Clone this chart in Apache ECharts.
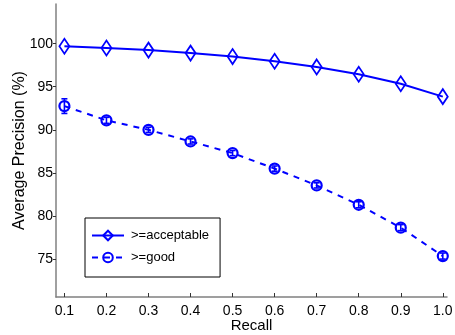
<!DOCTYPE html>
<html>
<head>
<meta charset="utf-8">
<script src="https://cdn.jsdelivr.net/npm/echarts@6/dist/echarts.min.js"></script>
<style>
  html, body { margin: 0; padding: 0; background: #fff; }
  #chart { width: 455px; height: 335px; }
</style>
</head>
<body>
<div id="chart"></div>
<script>
const recall = [0.1, 0.2, 0.3, 0.4, 0.5, 0.6, 0.7, 0.8, 0.9, 1.0]
const acceptable = [99.7, 99.5, 99.25, 98.9, 98.5, 97.95, 97.3, 96.45, 95.35, 93.85]
const good = [92.75, 91.1, 90.0, 88.65, 87.3, 85.5, 83.55, 81.3, 78.65, 75.35]
const goodErr = [0.85, 0.35, 0.3, 0.3, 0.3, 0.3, 0.3, 0.35, 0.35, 0.35]
const yTicks = [75, 80, 85, 90, 95, 100]

const blue = '#0000ff'
const font = 'Liberation Sans, Arial, Helvetica, sans-serif'

const chart = echarts.init(document.getElementById('chart'))

const errData = recall.map((x, i) => [x, good[i] - goodErr[i], good[i] + goodErr[i]])

chart.setOption({
  animation: false,
  textStyle: { fontFamily: font },
  grid: { left: 56, right: 8, top: 4, bottom: 38, outerBoundsMode: 'none', containLabel: false },
  xAxis: {
    type: 'value',
    min: 0.08,
    max: 1.01,
    name: 'Recall',
    nameLocation: 'middle',
    nameGap: 21,
    nameMoveOverlap: false,
    nameTextStyle: { fontSize: 15, color: '#000', fontFamily: font },
    axisLine: { lineStyle: { color: '#808080', width: 1.5 } },
    axisTick: { inside: true, length: 4, customValues: recall, lineStyle: { color: '#333' } },
    axisLabel: {
      customValues: recall,
      formatter: v => v.toFixed(1),
      fontSize: 14,
      color: '#000',
      margin: 7
    },
    splitLine: { show: false }
  },
  yAxis: {
    type: 'value',
    min: 70.6,
    max: 104.6,
    name: 'Average Precision (%)',
    nameLocation: 'middle',
    nameGap: 28,
    nameMoveOverlap: false,
    nameTextStyle: { fontSize: 16, color: '#000', fontFamily: font },
    axisLine: { show: true, lineStyle: { color: '#808080', width: 1.5 } },
    axisTick: { show: true, length: 3, customValues: yTicks, lineStyle: { color: '#333' } },
    axisLabel: { customValues: yTicks, fontSize: 14, color: '#000', margin: 3 },
    splitLine: { show: false }
  },
  legend: {
    left: 85,
    top: 218,
    orient: 'vertical',
    backgroundColor: '#fff',
    borderColor: '#000',
    borderWidth: 1,
    borderRadius: 0,
    padding: [11, 11, 13, 6],
    itemGap: 9,
    itemWidth: 32,
    itemHeight: 12,
    textStyle: { fontSize: 13, color: '#000', fontFamily: font, padding: [0, 0, 0, 2] },
    data: ['>=acceptable', '>=good']
  },
  series: [
    {
      name: '>=acceptable',
      type: 'line',
      data: recall.map((x, i) => [x, acceptable[i]]),
      symbol: 'diamond',
      symbolSize: [10, 15],
      lineStyle: { color: blue, width: 2 },
      itemStyle: { color: 'rgba(0,0,0,0)', borderColor: blue, borderWidth: 1.8 },
      emphasis: { disabled: true },
      z: 3
    },
    {
      name: '>=good',
      type: 'line',
      data: recall.map((x, i) => [x, good[i]]),
      symbol: 'circle',
      symbolSize: 10,
      lineStyle: { color: blue, width: 2, type: [6, 6] },
      itemStyle: { color: 'rgba(0,0,0,0)', borderColor: blue, borderWidth: 2.2 },
      emphasis: { disabled: true },
      z: 3
    },
    {
      name: 'err',
      type: 'custom',
      data: errData,
      silent: true,
      z: 4,
      renderItem: (params, api) => {
        const x = api.value(0)
        const lo = api.coord([x, api.value(1)])
        const hi = api.coord([x, api.value(2)])
        const w = 3
        const style = { stroke: blue, lineWidth: 1.6, fill: null }
        return {
          type: 'group',
          children: [
            { type: 'line', shape: { x1: lo[0], y1: lo[1], x2: hi[0], y2: hi[1] }, style },
            { type: 'line', shape: { x1: lo[0] - w, y1: lo[1], x2: lo[0] + w, y2: lo[1] }, style },
            { type: 'line', shape: { x1: hi[0] - w, y1: hi[1], x2: hi[0] + w, y2: hi[1] }, style }
          ]
        }
      }
    }
  ]
})
</script>
</body>
</html>
